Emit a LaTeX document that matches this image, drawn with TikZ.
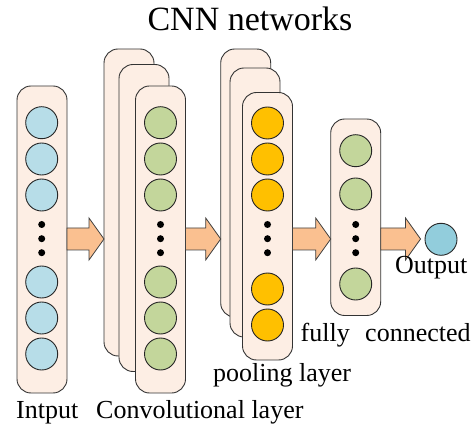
\documentclass[tikz,border=0pt]{standalone}
\usepackage{fontspec}
\setmainfont{Liberation Serif}
\usetikzlibrary{calc}
\definecolor{rectfill}{HTML}{FDEEE4}
\definecolor{cblue}{HTML}{B7DDE8}
\definecolor{cgreen}{HTML}{C3D69B}
\definecolor{cyellow}{HTML}{FFC000}
\definecolor{cout}{HTML}{92CDDC}
\definecolor{arrowfill}{HTML}{FAC090}
\newcommand\myblockarrow[2]{%
  \draw[barrow] let \p1=(#1), \p2=(#2) in
    (\x1,\y1+11pt) -- (\x2-15pt,\y1+11pt) -- (\x2-15pt,\y1+21pt) -- (\x2,\y1)
    -- (\x2-15pt,\y1-21pt) -- (\x2-15pt,\y1-11pt) -- (\x1,\y1-11pt) -- cycle;}
\tikzset{
  col/.style={draw=black!80, fill=rectfill, rounded corners=14pt, minimum width=50pt,
    inner sep=0pt, outer sep=0pt, anchor=north west, line width=0.9pt},
  cir/.style={circle, draw=black!85, line width=0.9pt, minimum size=32pt, inner sep=0pt},
  dot/.style={circle, fill=black, minimum size=7pt, inner sep=0pt},
  barrow/.style={draw=black!75, fill=arrowfill, line width=0.8pt},
  lbl/.style={anchor=base west, inner sep=0pt, font=\fontsize{26}{26}\selectfont},
}
\begin{document}
\begin{tikzpicture}[x=1pt, y=-1pt]
\useasboundingbox (0,0) rectangle (473,427);
\coordinate (mid) at (0,239);
% columns
\node[col, minimum height=307pt] (in) at (17,86) {};
\node[col, minimum height=307pt] (cb) at (104,49) {};
\node[col, minimum height=307pt] (cm) at (119,64.5) {};
\node[col, minimum height=307pt] (cf) at (135.5,86) {};
\node[col, minimum height=268pt] (pb) at (220.7,49) {};
\node[col, minimum height=269pt] (pm) at (230,68) {};
\node[col, minimum height=267.5pt] (pf) at (242.5,92.5) {};
\node[col, minimum height=196.5pt] (fc) at (330.7,119) {};
% output
\node[cir, fill=cout] (out) at (441,239.3) {};
% arrows
\myblockarrow{in.east |- mid}{cb.west |- mid}
\myblockarrow{cf.east |- mid}{pb.west |- mid}
\myblockarrow{pf.east |- mid}{fc.west |- mid}
\myblockarrow{fc.east |- mid}{[xshift=-4pt]out.west |- mid}
% input circles
\foreach \y [count=\i] in {122.7,159,195,282,318,354}
  \node[cir, fill=cblue] (i\i) at (41.7,\y) {};
\foreach \y [count=\i] in {224.5,238.7,252.7}
  \node[dot] (id\i) at (41.7,\y) {};
% conv circles
\foreach \y [count=\i] in {122.7,159,195,282,318,354}
  \node[cir, fill=cgreen] (c\i) at (160.5,\y) {};
\foreach \y [count=\i] in {224.5,238.7,252.7}
  \node[dot] (cd\i) at (160.5,\y) {};
% pooling circles
\foreach \y [count=\i] in {123,159,195,289,325}
  \node[cir, fill=cyellow] (p\i) at (267.5,\y) {};
\foreach \y [count=\i] in {224.5,238.7,252.7}
  \node[dot] (pd\i) at (267.5,\y) {};
% fully connected circles
\foreach \y [count=\i] in {150.7,194,284}
  \node[cir, fill=cgreen] (f\i) at (355.7,\y) {};
\foreach \y [count=\i] in {224.5,238.7,252.7}
  \node[dot] (fd\i) at (355.7,\y) {};
% labels
\node[anchor=base, inner sep=0pt, font=\fontsize{34}{34}\selectfont] (title) at (250,31) {CNN networks};
\node[lbl] (lin) at (16,418) {Intput};
\node[lbl] (lconv) at (96,418) {Convolutional layer};
\node[lbl] (lpool) at (213,381) {pooling layer};
\node[lbl] (lfully) at (300.5,341) {fully};
\node[lbl] (lconn) at (365,341) {connected};
\node[lbl] (lout) at (395,273) {Output};
\end{tikzpicture}
\end{document}
